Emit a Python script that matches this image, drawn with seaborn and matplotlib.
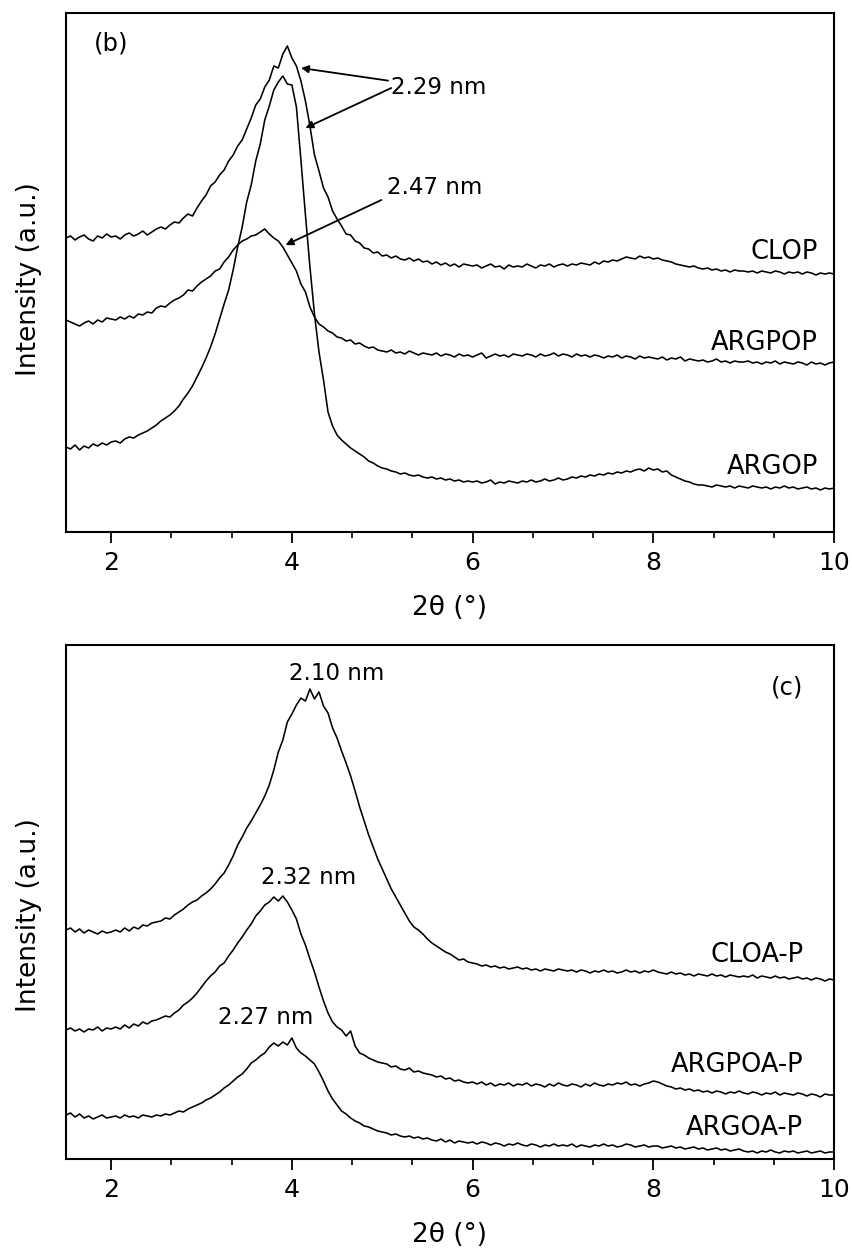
import numpy as np
import pandas as pd
import matplotlib
matplotlib.use("Agg")
import matplotlib.pyplot as plt
import seaborn as sns
from matplotlib.ticker import AutoMinorLocator

# ---------------- data (2theta grid, step 0.05 deg) ----------------
two_theta = np.round(np.linspace(1.5, 10.0, 171), 2)

# Panel (b)
clop = [294, 296, 292, 295, 297, 293, 291, 296, 294, 298, 295,
        296, 293, 297, 299, 296, 298, 301, 297, 300, 303,
        305, 303, 307, 310, 309, 314, 318, 316, 324, 331,
        337, 346, 350, 357, 362, 371, 377, 386, 392, 403,
        414, 427, 433, 445, 452, 466, 464, 478, 486, 474,
        466, 451, 431, 406, 377, 361, 344, 335, 321, 313,
        306, 298, 297, 291, 289, 284, 283, 279, 280, 276,
        277, 274, 276, 273, 272, 274, 271, 273, 270, 271,
        268, 270, 267, 269, 266, 268, 265, 268, 267, 266,
        267, 264, 266, 268, 265, 266, 263, 267, 265, 266,
        265, 268, 266, 264, 267, 266, 268, 265, 267, 268,
        266, 268, 267, 269, 268, 267, 270, 268, 271, 270,
        272, 271, 273, 275, 274, 273, 276, 274, 275, 273,
        274, 272, 271, 270, 268, 267, 266, 265, 266, 264,
        263, 264, 262, 263, 261, 262, 260, 262, 261, 261,
        260, 261, 259, 261, 260, 259, 261, 260, 258, 260,
        259, 260, 258, 260, 259, 257, 259, 258, 259, 258]

argpop = [212, 210, 208, 206, 209, 211, 208, 212, 210, 214, 213,
          212, 215, 213, 216, 214, 218, 217, 220, 219, 224,
          226, 225, 229, 232, 234, 237, 242, 241, 246, 250,
          253, 256, 261, 263, 270, 275, 282, 287, 291, 293,
          296, 297, 300, 303, 298, 294, 291, 285, 277, 269,
          261, 248, 240, 225, 215, 208, 205, 201, 199, 195,
          194, 191, 192, 188, 189, 186, 184, 185, 182, 181,
          180, 182, 179, 180, 178, 181, 179, 177, 179, 178,
          177, 179, 176, 178, 177, 175, 178, 176, 177, 175,
          177, 179, 174, 176, 178, 176, 177, 175, 178, 177,
          176, 178, 177, 175, 178, 176, 177, 179, 176, 178,
          177, 175, 178, 176, 177, 175, 177, 176, 174, 176,
          175, 177, 174, 176, 175, 173, 176, 174, 175, 174,
          173, 175, 172, 174, 173, 175, 171, 173, 172, 171,
          172, 170, 171, 173, 170, 171, 169, 171, 170, 170,
          171, 169, 170, 168, 170, 169, 171, 168, 170, 169,
          168, 170, 169, 167, 170, 168, 169, 167, 169, 170]

argop = [85, 83, 87, 82, 86, 84, 88, 86, 89, 87, 90,
         91, 89, 93, 95, 94, 97, 99, 101, 104, 107,
         111, 114, 117, 121, 126, 133, 139, 146, 155, 164,
         174, 185, 198, 213, 228, 242, 262, 285, 305, 330,
         347, 371, 388, 412, 426, 442, 450, 456, 448, 447,
         425, 372, 317, 265, 218, 180, 152, 120, 106, 97,
         92, 88, 84, 81, 78, 75, 71, 69, 66, 64,
         63, 61, 60, 58, 59, 57, 56, 57, 55, 54,
         55, 53, 54, 52, 53, 51, 52, 50, 51, 50,
         51, 49, 50, 52, 48, 50, 49, 51, 50, 49,
         51, 50, 52, 50, 51, 53, 51, 52, 54, 52,
         53, 55, 54, 56, 55, 57, 56, 58, 57, 59,
         58, 60, 59, 61, 60, 62, 63, 61, 64, 62,
         63, 60, 61, 57, 55, 53, 51, 50, 48, 47,
         47, 46, 45, 47, 46, 45, 46, 44, 46, 45,
         44, 46, 45, 44, 45, 43, 45, 44, 46, 44,
         45, 43, 44, 45, 43, 44, 42, 44, 43, 44]

# Panel (c)
cloa_p = [229, 231, 227, 230, 226, 229, 227, 225, 228, 226, 227,
          229, 227, 231, 228, 232, 230, 234, 233, 236, 237,
          238, 241, 240, 244, 247, 250, 254, 257, 259, 263,
          266, 270, 275, 281, 286, 294, 303, 314, 322, 331,
          338, 346, 354, 363, 374, 389, 407, 419, 437, 445,
          454, 461, 458, 470, 460, 467, 453, 446, 431, 421,
          408, 396, 383, 368, 352, 338, 324, 312, 300, 290,
          280, 270, 262, 254, 246, 238, 232, 229, 225, 220,
          216, 213, 210, 207, 205, 202, 199, 200, 197, 196,
          195, 193, 194, 192, 193, 191, 192, 190, 191, 192,
          190, 191, 189, 190, 188, 190, 189, 188, 190, 189,
          188, 189, 187, 189, 188, 186, 188, 187, 189, 187,
          188, 186, 187, 189, 187, 188, 186, 188, 187, 189,
          187, 186, 185, 187, 185, 186, 184, 185, 183, 185,
          184, 183, 185, 183, 184, 182, 184, 183, 182, 183,
          182, 184, 181, 183, 182, 181, 183, 181, 182, 180,
          181, 182, 180, 181, 179, 181, 180, 178, 180, 179]

argpoa_p = [129, 131, 128, 130, 127, 130, 129, 132, 128, 131, 130,
            132, 130, 134, 131, 135, 133, 137, 135, 138, 139,
            141, 143, 142, 146, 149, 154, 157, 161, 166, 172,
            178, 183, 187, 193, 196, 203, 209, 216, 222, 229,
            235, 243, 248, 254, 257, 262, 258, 263, 257, 249,
            240, 225, 214, 200, 187, 172, 158, 146, 137, 132,
            129, 123, 128, 113, 106, 104, 101, 99, 97, 96,
            95, 92, 93, 90, 89, 91, 87, 88, 86, 85,
            84, 82, 83, 80, 81, 78, 79, 77, 76, 77,
            75, 77, 74, 76, 73, 75, 74, 76, 73, 75,
            74, 76, 73, 75, 74, 72, 75, 73, 76, 74,
            73, 75, 74, 72, 75, 73, 76, 74, 73, 75,
            74, 76, 75, 77, 74, 75, 73, 75, 76, 78,
            77, 75, 73, 72, 70, 71, 69, 70, 68, 69,
            67, 68, 66, 68, 67, 65, 67, 66, 68, 66,
            65, 67, 66, 64, 66, 65, 67, 64, 66, 65,
            64, 66, 65, 63, 65, 64, 62, 65, 64, 64]

argoa_p = [44, 46, 42, 45, 41, 43, 40, 42, 44, 41, 42,
           43, 41, 44, 42, 43, 41, 44, 43, 42, 44,
           43, 45, 44, 46, 48, 47, 50, 52, 54, 56,
           59, 61, 64, 67, 71, 74, 78, 82, 85, 90,
           96, 99, 103, 106, 112, 116, 113, 117, 114, 121,
           111, 106, 103, 99, 95, 87, 78, 68, 60, 54,
           48, 45, 41, 38, 36, 33, 32, 30, 28, 27,
           26, 24, 25, 23, 22, 23, 21, 22, 20, 21,
           19, 18, 20, 17, 19, 16, 18, 17, 16, 17,
           15, 17, 16, 14, 16, 15, 13, 15, 14, 16,
           14, 13, 15, 14, 12, 14, 13, 15, 13, 14,
           13, 15, 12, 14, 13, 12, 14, 13, 15, 13,
           14, 12, 13, 15, 14, 12, 13, 14, 12, 13,
           13, 11, 12, 13, 11, 12, 10, 11, 12, 10,
           11, 9, 10, 11, 9, 10, 8, 9, 10, 8,
           7, 8, 6, 8, 7, 9, 7, 6, 8, 7,
           8, 6, 7, 8, 6, 7, 8, 6, 7, 7]

labels_b = ["CLOP", "ARGPOP", "ARGOP"]
labels_c = ["CLOA-P", "ARGPOA-P", "ARGOA-P"]
x_ticks = [2, 4, 6, 8, 10]

# ---------------- style ----------------
sns.set_style("ticks")
plt.rcParams["font.family"] = ["DejaVu Sans"]
plt.rcParams["axes.linewidth"] = 1.5
plt.rcParams["text.color"] = "black"
plt.rcParams["axes.labelcolor"] = "black"
plt.rcParams["xtick.color"] = "black"
plt.rcParams["ytick.color"] = "black"
plt.rcParams["axes.edgecolor"] = "black"

fig = plt.figure(figsize=(8.53, 12.49), dpi=100)
ax_b = fig.add_axes([66 / 853, 1 - 532 / 1249, 768 / 853, 519 / 1249])
ax_c = fig.add_axes([66 / 853, 1 - 1159 / 1249, 768 / 853, 514 / 1249])

df_b = pd.DataFrame({"2theta": np.tile(two_theta, 3),
                     "I": clop + argpop + argop,
                     "sample": np.repeat(labels_b, len(two_theta))})
df_c = pd.DataFrame({"2theta": np.tile(two_theta, 3),
                     "I": cloa_p + argpoa_p + argoa_p,
                     "sample": np.repeat(labels_c, len(two_theta))})

for ax, df, labels in [(ax_b, df_b, labels_b), (ax_c, df_c, labels_c)]:
    sns.lineplot(data=df, x="2theta", y="I", hue="sample", hue_order=labels,
                 palette=["black"] * 3, linewidth=1.15, legend=False,
                 estimator=None, sort=False, ax=ax)
    ax.set_xlim(1.5, 10)
    ax.set_xticks(x_ticks)
    ax.set_xticklabels([str(t) for t in x_ticks])
    ax.xaxis.set_minor_locator(AutoMinorLocator(3))
    ax.tick_params(axis="x", which="major", direction="out", length=8, width=1.3,
                   labelsize=18, pad=6, top=False, colors="black")
    ax.tick_params(axis="x", which="minor", direction="out", length=4.5, width=1.2,
                   top=False, colors="black")
    ax.set_yticks([])
    ax.set_xlabel("2θ (°)", fontsize=19, labelpad=14, color="black")
    ax.set_ylabel("Intensity (a.u.)", fontsize=19, color="black")
    for s in ax.spines.values():
        s.set_linewidth(1.5)
        s.set_color("black")

ax_b.set_ylim(0, 519)
ax_c.set_ylim(0, 514)
ax_b.yaxis.set_label_coords(-0.031, 0.488)
ax_c.yaxis.set_label_coords(-0.031, 0.475)

fs_nm = 16.5
fs_name = 18.5
fs_tag = 17.5
arrow_kw = dict(arrowstyle="-|>", color="black", lw=1.3, mutation_scale=11,
                shrinkA=0, shrinkB=0)

# panel (b) annotations
ax_b.text(2.0, 489, "(b)", fontsize=fs_tag, ha="center", va="center")
ax_b.annotate("2.29 nm", xy=(4.1, 464), xytext=(5.1, 444), fontsize=fs_nm,
              ha="left", va="center", arrowprops=arrow_kw)
ax_b.annotate("", xy=(4.15, 404), xytext=(5.1, 444), arrowprops=arrow_kw)
ax_b.annotate("", xy=(3.93, 287), xytext=(4.99, 332), arrowprops=arrow_kw)
ax_b.text(5.05, 344, "2.47 nm", fontsize=fs_nm, ha="left", va="center")
ax_b.text(9.82, 280, labels_b[0], fontsize=fs_name, ha="right", va="center")
ax_b.text(9.82, 189, labels_b[1], fontsize=fs_name, ha="right", va="center")
ax_b.text(9.82, 65, labels_b[2], fontsize=fs_name, ha="right", va="center")

# panel (c) annotations
ax_c.text(4.50, 486, "2.10 nm", fontsize=fs_nm, ha="center", va="center")
ax_c.text(9.48, 471, "(c)", fontsize=fs_tag, ha="center", va="center")
ax_c.text(4.18, 282, "2.32 nm", fontsize=fs_nm, ha="center", va="center")
ax_c.text(3.71, 141, "2.27 nm", fontsize=fs_nm, ha="center", va="center")
ax_c.text(9.66, 204, labels_c[0], fontsize=fs_name, ha="right", va="center")
ax_c.text(9.66, 94, labels_c[1], fontsize=fs_name, ha="right", va="center")
ax_c.text(9.66, 31, labels_c[2], fontsize=fs_name, ha="right", va="center")

fig.savefig("out.png", dpi=100, facecolor="white")
